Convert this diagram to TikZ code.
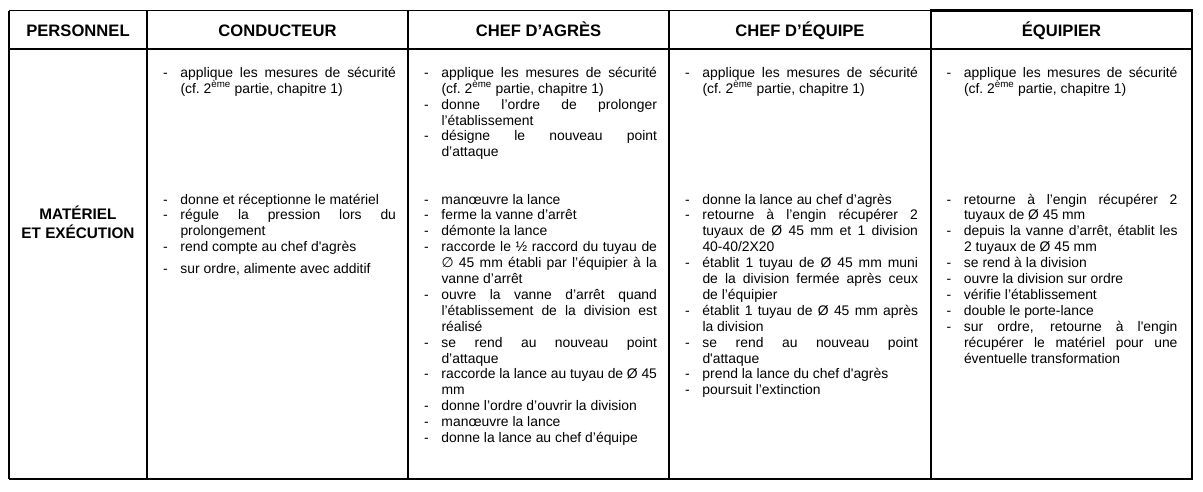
\documentclass[tikz,border=0pt]{standalone}
\usepackage{fontspec}
\setmainfont{Liberation Sans}
\newfontfamily\symbfont{DejaVu Sans}
\definecolor{col_000000}{RGB}{0,0,0}
\newcommand{\tableitem}[1]{%
\hangindent=17.5pt\hangafter=1\noindent\makebox[17.5pt][l]{-}#1\par
}
\newcommand{\sq}{\textquotesingle}

\begin{document}
\begin{tikzpicture}[x=1pt,y=-1pt,
  thinrule/.style={line width=1.1pt},
  thickrule/.style={line width=2.2pt},
  headtext/.style={font=\fontsize{16.6}{19}\selectfont\bfseries, anchor=base, inner sep=0pt},
  labeltext/.style={font=\fontsize{15.3}{19.5}\selectfont\bfseries, anchor=base, inner sep=0pt, align=center},
  celltext/.style={font=\fontsize{13.9}{15.9}\selectfont, anchor=base west, inner sep=0pt, text width=233pt, align=justify,
    execute at begin node={\tolerance=9999\hbadness=10000\hyphenpenalty=10000\exhyphenpenalty=10000}}]
\useasboundingbox (0,0) rectangle (1203,491);
\fill[white] (0,0) rectangle (1203,491);
\draw[solid, col_000000, thinrule] (9,10.5) -- (931,10.5);     %% top rule
\draw[solid, col_000000, thinrule] (9,479) -- (931,479);     %% bottom rule
\draw[solid, col_000000, thinrule] (9,49) -- (931,49);     %% header rule
\draw[solid, col_000000, thinrule] (9,10.5) -- (9,479);
\draw[solid, col_000000, thinrule] (147,10.5) -- (147,479);
\draw[solid, col_000000, thinrule] (408,10.5) -- (408,479);
\draw[solid, col_000000, thinrule] (669,10.5) -- (669,479);
\draw[solid, col_000000, line width=1.6pt] (931,49) -- (1192,49);
\draw[solid, col_000000, thickrule] (931,10.5) rectangle (1192,479);     %% equipier frame
\node[headtext] (personnel) at (78,36) {PERSONNEL};
\node[headtext] (conducteur) at (277.5,36) {CONDUCTEUR};
\node[headtext] (chefagres) at (538.5,36) {CHEF D’AGRÈS};
\node[headtext] (chefequipe) at (800,36) {CHEF D’ÉQUIPE};
\node[headtext] (equipier) at (1061.5,36) {ÉQUIPIER};
\node[labeltext] (materiel) at (78,238.5) {MATÉRIEL\\ET EXÉCUTION};
%% conducteur
\node[celltext] (cond_a) at (162.8,77.3) {%
\tableitem{applique les mesures de sécurité \linebreak (cf.~2\textsuperscript{ème} partie, chapitre 1)}};
\node[celltext] (cond_b) at (162.8,204) {%
\tableitem{donne et réceptionne le matériel}
\tableitem{régule la pression lors du \linebreak prolongement}
\tableitem{rend compte au chef d\sq agrès}
\vspace{6.3pt}
\tableitem{sur ordre, alimente avec additif}};
%% chef d'agres
\node[celltext] (agres_a) at (423.8,77.3) {%
\tableitem{applique les mesures de sécurité \linebreak (cf.~2\textsuperscript{ème} partie, chapitre 1)}
\tableitem{donne l’ordre de prolonger \linebreak l’établissement}
\tableitem{désigne le nouveau point \linebreak d’attaque}};
\node[celltext] (agres_b) at (423.8,204) {%
\tableitem{manœuvre la lance}
\tableitem{ferme la vanne d’arrêt}
\tableitem{démonte la lance}
\tableitem{raccorde le ½ raccord du tuyau de \linebreak {\symbfont ∅} 45 mm établi par l’équipier à la \linebreak vanne d’arrêt}
\tableitem{ouvre la vanne d’arrêt quand \linebreak l’établissement de la division est \linebreak réalisé}
\tableitem{se rend au nouveau point \linebreak d’attaque}
\tableitem{raccorde la lance au tuyau de Ø 45 \linebreak mm}
\tableitem{donne l’ordre d’ouvrir la division}
\tableitem{manœuvre la lance}
\tableitem{donne la lance au chef d’équipe}};
%% chef d'equipe
\node[celltext] (equipe_a) at (684.8,77.3) {%
\tableitem{applique les mesures de sécurité \linebreak (cf.~2\textsuperscript{ème} partie, chapitre 1)}};
\node[celltext] (equipe_b) at (684.8,204) {%
\tableitem{donne la lance au chef d’agrès}
\tableitem{retourne à l’engin récupérer 2 \linebreak tuyaux de Ø 45 mm et 1 division \linebreak 40-40/2X20}
\tableitem{établit 1 tuyau de Ø 45 mm muni \linebreak de la division fermée après ceux \linebreak de l’équipier}
\tableitem{établit 1 tuyau de Ø 45 mm après \linebreak la division}
\tableitem{se rend au nouveau point \linebreak d\sq attaque}
\tableitem{prend la lance du chef d\sq agrès}
\tableitem{poursuit l’extinction}};
%% equipier
\node[celltext, text width=231pt] (equip_a) at (946.3,77.3) {%
\tableitem{applique les mesures de sécurité \linebreak (cf.~2\textsuperscript{ème} partie, chapitre 1)}};
\node[celltext, text width=231pt] (equip_b) at (946.3,204) {%
\tableitem{retourne à l’engin récupérer 2 \linebreak tuyaux de Ø 45 mm}
\tableitem{depuis la vanne d’arrêt, établit les \linebreak 2 tuyaux de Ø 45 mm}
\tableitem{se rend à la division}
\tableitem{ouvre la division sur ordre}
\tableitem{vérifie l’établissement}
\tableitem{double le porte-lance}
\tableitem{sur ordre, retourne à l\sq engin \linebreak récupérer le matériel pour une \linebreak éventuelle transformation}};
\end{tikzpicture}
\end{document}
